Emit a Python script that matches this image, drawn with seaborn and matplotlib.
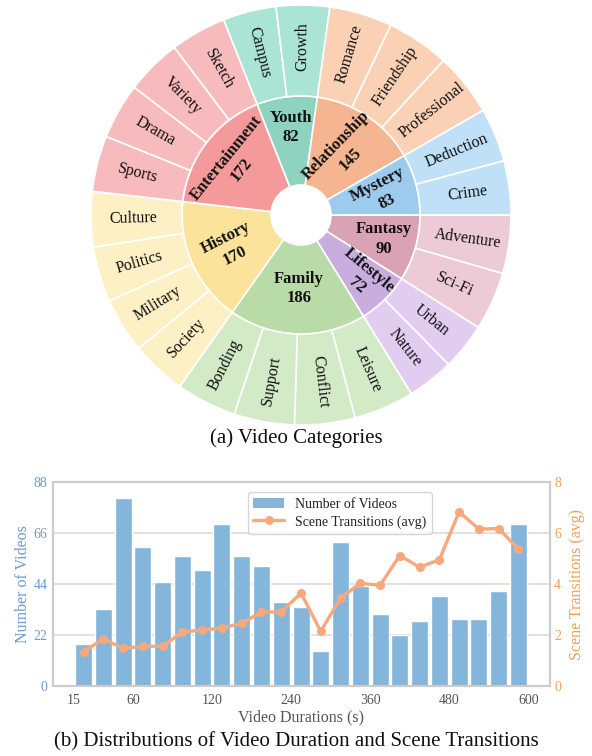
import numpy as np
import pandas as pd
import matplotlib
matplotlib.use("Agg")
import matplotlib.pyplot as plt
from matplotlib.patches import Patch
from matplotlib.lines import Line2D
import seaborn as sns

# ---------------- Sunburst data (clockwise from 3 o'clock) ----------------
categories = ["Fantasy", "Lifestyle", "Family", "History",
              "Entertainment", "Youth", "Relationship", "Mystery"]
category_counts = [90, 72, 186, 170, 172, 82, 145, 83]
subcategories = [
    ["Adventure", "Sci-Fi"],
    ["Urban", "Nature"],
    ["Leisure", "Conflict", "Support", "Bonding"],
    ["Society", "Military", "Politics", "Culture"],
    ["Sports", "Drama", "Variety", "Sketch"],
    ["Campus", "Growth"],
    ["Romance", "Friendship", "Professional"],
    ["Deduction", "Crime"],
]
subcategory_counts = [
    [45, 45],
    [36, 36],
    [46.5, 46.5, 46.5, 46.5],
    [42.5, 42.5, 42.5, 42.5],
    [43, 43, 43, 43],
    [41, 41],
    [48.33, 48.33, 48.34],
    [41.5, 41.5],
]
inner_colors = ["#d9a3b5", "#c9addf", "#b8dba8", "#fce39b",
                "#f49a9b", "#8ed3c0", "#f5b590", "#9ccbee"]
outer_colors = ["#edcbd6", "#e2cdf1", "#d3eac7", "#fdf0c4",
                "#f8bbbd", "#a9e4d4", "#fad1b5", "#bfe0f6"]

# ---------------- Duration / scene transition data ----------------
duration_bin = list(range(23))
duration_tick_labels = ["15", "60", "120", "240", "360", "480", "600"]
video_counts = [18, 33, 81, 60, 45, 56, 50, 70, 56, 52, 36, 34, 15,
                62, 43, 31, 22, 28, 39, 29, 29, 41, 70]
scene_transitions = [1.34, 1.84, 1.47, 1.55, 1.55, 2.11, 2.19, 2.27, 2.45,
                     2.90, 2.90, 3.64, 2.14, 3.45, 4.03, 3.95, 5.12, 4.66,
                     4.95, 6.84, 6.16, 6.18, 5.38]

sns.set_theme(style="white")
plt.rcParams["font.family"] = ["Liberation Serif", "DejaVu Serif"]

W, H = 592, 756
fig = plt.figure(figsize=(W / 100, H / 100), dpi=100)

# ---------------- Sunburst ----------------
cx, cy, R = 301, 215, 210
ax1 = fig.add_axes([(cx - R) / W, 1 - (cy + R) / H, 2 * R / W, 2 * R / H])
r_hole, r_mid = 0.143, 0.567
edge = dict(edgecolor="white", linewidth=1.2)

ax1.pie(category_counts, radius=r_mid, startangle=0, counterclock=False,
        colors=inner_colors, wedgeprops=dict(width=r_mid - r_hole, **edge))
flat_sub = [v for grp in subcategory_counts for v in grp]
flat_names = [n for grp in subcategories for n in grp]
flat_cols = [outer_colors[i] for i, grp in enumerate(subcategory_counts) for _ in grp]
wedges, _ = ax1.pie(flat_sub, radius=1.0, startangle=0, counterclock=False,
                    colors=flat_cols, wedgeprops=dict(width=1.0 - r_mid, **edge))
ax1.set_xlim(-1, 1)
ax1.set_ylim(-1, 1)
ax1.set_aspect("equal")
ax1.axis("off")

# outer labels, radial
for w, name in zip(wedges, flat_names):
    ang = (w.theta1 + w.theta2) / 2
    a = np.deg2rad(ang)
    x, y = 0.80 * np.cos(a), 0.80 * np.sin(a)
    angn = ((ang + 180) % 360) - 180
    rot = angn if -90 <= angn <= 90 else angn - 180 if angn > 90 else angn + 180
    ax1.text(x, y, name, rotation=rot, rotation_mode="anchor",
             ha="center", va="center", fontsize=11.5, color="#111111")

# inner labels
total = sum(category_counts)
inner_style = {
    "Fantasy": (0.41, 0), "Lifestyle": (0.42, -40), "Family": (0.35, 0),
    "History": (0.37, 27), "Entertainment": (0.40, 51), "Youth": (0.42, 0),
    "Relationship": (0.36, 46), "Mystery": (0.40, 27),
}
start = 0.0
for name, cnt in zip(categories, category_counts):
    span = 360 * cnt / total
    ang = start - span / 2
    start -= span
    rr, rot = inner_style[name]
    a = np.deg2rad(ang)
    ax1.text(rr * np.cos(a), rr * np.sin(a), f"{name}\n{cnt}", rotation=rot,
             rotation_mode="anchor", ha="center", va="center",
             multialignment="center", fontsize=12, fontweight="bold",
             color="#111111", linespacing=1.3)

fig.text(0.5, 1 - 438 / H, "(a) Video Categories", ha="center", va="center",
         fontsize=15, color="#111111")

# ---------------- Bar + line chart ----------------
left, right, top, bottom = 53, 550, 482.3, 685.7
ax = fig.add_axes([left / W, 1 - bottom / H, (right - left) / W, (bottom - top) / H])
df = pd.DataFrame({"bin": duration_bin, "count": video_counts,
                   "trans": scene_transitions})
bar_color = "#84b6dc"
line_color = "#f7a87c"
blue_txt = "#6a9bd2"
orange_txt = "#f0a055"

sns.barplot(data=df, x="bin", y="count", color=bar_color, saturation=1,
            width=0.86, ax=ax, zorder=2)
ax.set_ylim(0, 88)
ax.set_yticks([0, 22, 44, 66, 88])
ax.set_xlim(-1.55, 23.6)
ax.set_xticks([-0.5, 2.5, 6.5, 10.5, 14.5, 18.5, 22.5])
ax.set_xticklabels(duration_tick_labels)
ax.grid(axis="y", color="#dcdcdc", linewidth=1.2, zorder=0)
ax.grid(axis="x", visible=False)
ax.set_axisbelow(True)
ax.tick_params(axis="y", colors=blue_txt, labelsize=10, length=0, pad=4)
ax.tick_params(axis="x", colors="#555555", labelsize=10, length=0, pad=6)
ax.set_xlabel("Video Durations (s)", fontsize=11.5, color="#555555", labelpad=2)
ax.set_ylabel("Number of Videos", fontsize=11.5, color=blue_txt, labelpad=2)

ax2 = ax.twinx()
sns.lineplot(data=df, x="bin", y="trans", ax=ax2, color=line_color,
             linewidth=2.4, marker="o", markersize=6.5, markeredgewidth=0,
             zorder=3)
ax2.set_ylim(0, 8)
ax2.set_yticks([0, 2, 4, 6, 8])
ax2.grid(False)
ax2.tick_params(axis="y", colors=orange_txt, labelsize=10, length=0, pad=3)
ax2.set_ylabel("Scene Transitions (avg)", fontsize=11.5, color=orange_txt, labelpad=6)
ax2.set_xlabel("")
for a_ in (ax, ax2):
    for s in a_.spines.values():
        s.set_color("#cccccc")
        s.set_linewidth(1.5)
        s.set_visible(True)

handles = [Patch(facecolor=bar_color, edgecolor="none"),
           Line2D([0], [0], color=line_color, lw=2.4, marker="o", markersize=6.5,
                  markeredgewidth=0)]
leg = ax2.legend(handles, ["Number of Videos", "Scene Transitions (avg)"],
                 loc="upper center", bbox_to_anchor=(0.577, 0.985), fontsize=10,
                 frameon=True, edgecolor="#cccccc", fancybox=True,
                 handlelength=2.2, borderpad=0.4, labelspacing=0.3)
leg.get_frame().set_linewidth(1.0)
for t in leg.get_texts():
    t.set_color("#222222")

fig.text(0.5, 1 - 742 / H, "(b) Distributions of Video Duration and Scene Transitions",
         ha="center", va="center", fontsize=15, color="#111111")

fig.savefig("out.png", dpi=100)
